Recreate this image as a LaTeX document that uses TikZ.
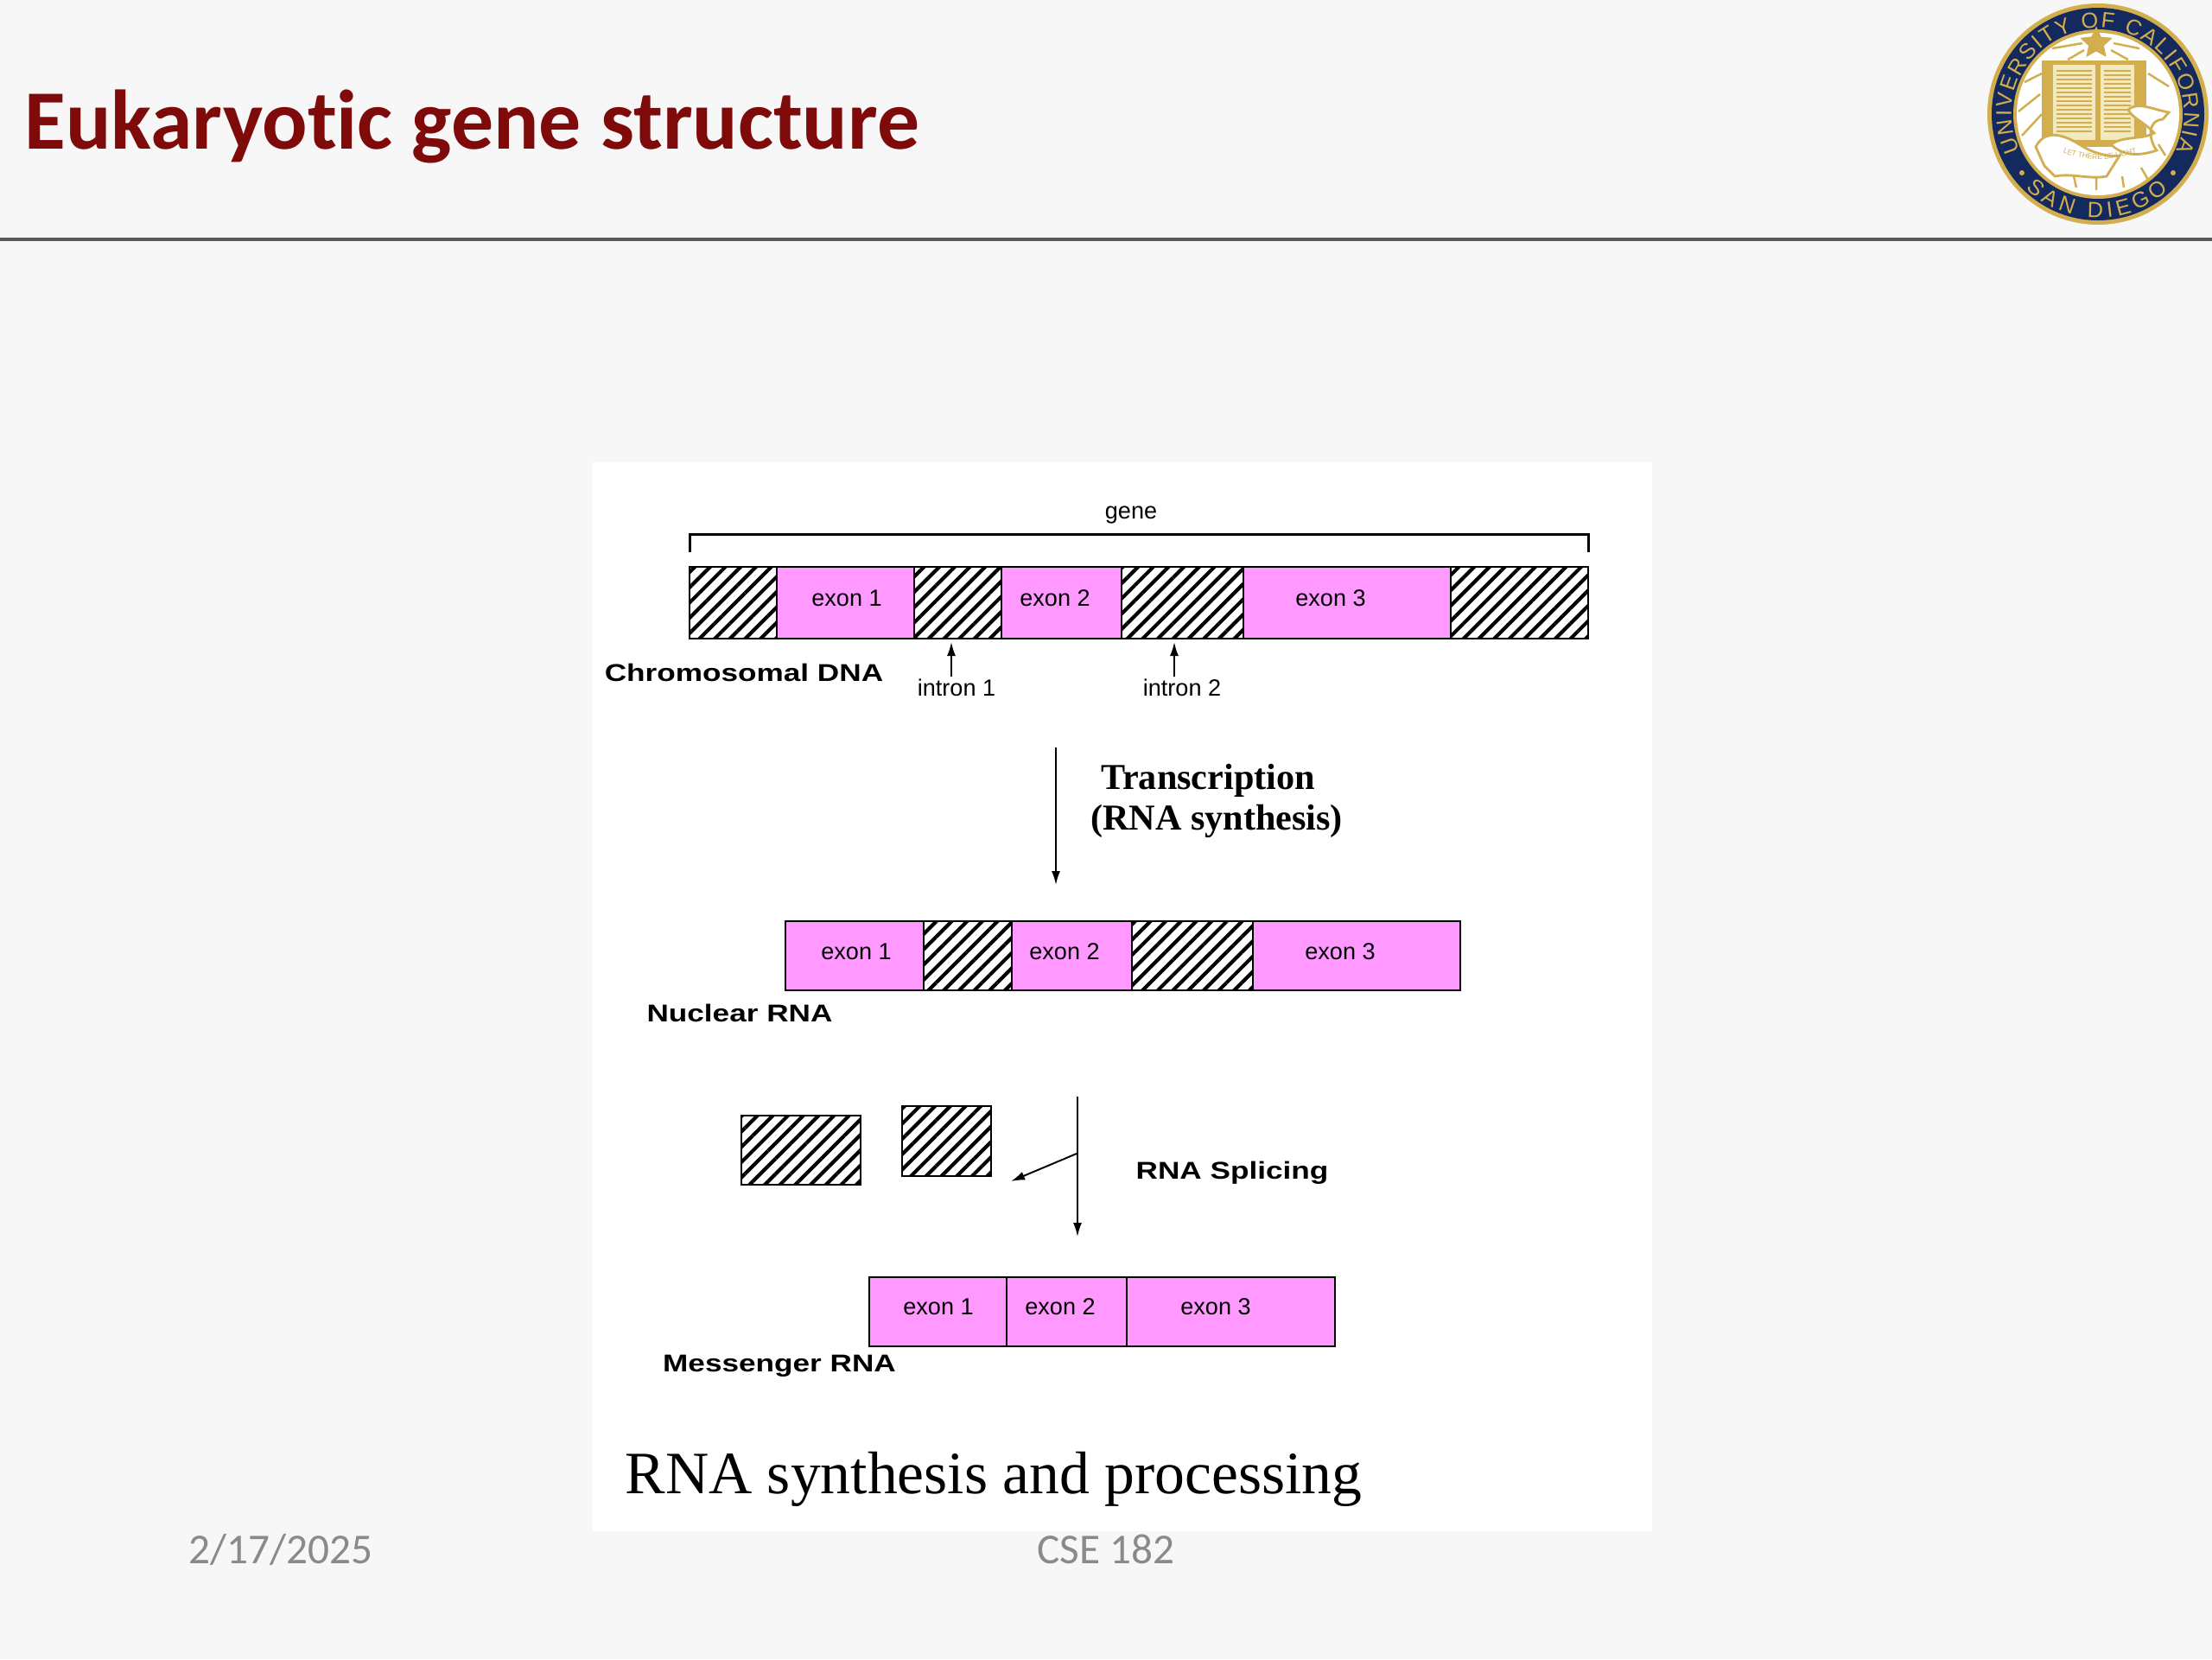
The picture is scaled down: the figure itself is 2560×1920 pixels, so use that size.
\documentclass[tikz,border=0pt]{standalone}
\usepackage{fontspec}
\setmainfont{Liberation Sans}
\newfontfamily\slidefont[Ligatures=CommonOff]{Carlito}
\newfontfamily\figserif{Liberation Serif}
\usetikzlibrary{arrows.meta,patterns.meta,decorations.text,shapes.geometric}
\definecolor{slidebg}{HTML}{F7F7F7}
\definecolor{titlered}{HTML}{7F0A0A}
\definecolor{exonpink}{HTML}{FF99FF}
\definecolor{sealnavy}{HTML}{14295E}
\definecolor{sealgold}{HTML}{D2AE4E}
\definecolor{sealpage}{HTML}{F3E9C0}
\newcommand{\wideletters}[1]{\scalebox{1.25}[1]{#1}}
\begin{document}
\begin{tikzpicture}[x=0.01cm,y=-0.01cm,line cap=butt,
	exonbox/.style={draw=black,line width=0.75pt,fill=exonpink},
	hatchbox/.style={draw=black,line width=0.75pt,preaction={fill=white},pattern={Lines[angle=45,distance=0.125cm,line width=0.042cm]}},
	exonlabel/.style={font=\fontsize{7.7}{9}\selectfont,inner sep=0},
	boldlabel/.style={font=\fontsize{8}{9}\selectfont\bfseries,inner sep=0},
	smalllabel/.style={font=\fontsize{7.7}{9}\selectfont,inner sep=0},
	seriflabel/.style={font=\fontsize{12}{14}\selectfont\figserif\bfseries,inner sep=0},
	footlabel/.style={font=\fontsize{14}{16}\selectfont\slidefont,text=black!46,inner sep=0},
	thinarrow/.style={-{Latex[length=0.16cm,width=0.1cm]},line width=0.55pt},
	sealline/.style={draw=sealgold,line width=0.5pt}]
	\useasboundingbox (0,0) rectangle (2560,1920);
	\fill[slidebg] (0,0) rectangle (2560,1920);
	% header
	\node[font=\fontsize{27.8}{32}\selectfont\slidefont\bfseries,text=titlered,anchor=west,inner sep=0] (slidetitle) at (28,146) {Eukaryotic gene structure};
	\draw[black!65,line width=1.1pt] (0,277) -- (2560,277);
	% seal
	\begin{scope}[shift={(2428,132)},x=0.01cm,y=0.01cm]
		\fill[sealgold] (0,0) circle (128);
		\fill[sealnavy] (0,0) circle (123);
		\fill[sealgold] (0,0) circle (98);
		\fill[white] (0,0) circle (94);
		\path[decorate,decoration={text along path,text align={fit to path},text={|\fontsize{7.2}{9}\selectfont\color{sealgold}|UNIVERSITY OF CALIFORNIA}}] (205:100) arc (205:-25:100);
		\path[decorate,decoration={text along path,text align={fit to path},text={|\fontsize{7.2}{9}\selectfont\color{sealgold}|SAN DIEGO}}] (226:120) arc (226:313:120);
		\fill[sealgold] (-88,-68) circle (3) (87,-68) circle (3);
		\draw[sealline,line width=0.7pt] (-85,37) -- (-65,47) (-92,3) -- (-67,23) (-88,-25) -- (-65,0) (58,47) -- (82,32) (-53,76) -- (-18,82) (-35,63) -- (-16,74) (15,74) -- (35,63) (18,82) -- (48,76) (-28,-72) -- (-25,-85) (-2,-72) -- (-2,-88) (28,-72) -- (30,-85) (50,-62) -- (58,-76) (70,-35) -- (78,-48);
		\fill[sealgold] (-65,-38) rectangle (56,62);
		\fill[sealpage] (-52,-30) rectangle (-3,57);
		\fill[sealpage] (3,-30) rectangle (42,57);
		\foreach \lineh in {50,45,40,35,30,25,20,15,10,5,0,-5,-10,-15,-20} {
			\draw[sealgold,line width=0.35pt] (-48,\lineh) -- (-7,\lineh);
			\draw[sealgold,line width=0.35pt] (7,\lineh) -- (38,\lineh);
		}
		\node[star,star points=5,star point ratio=2.1,minimum size=0.36cm,inner sep=0,fill=sealgold,draw=sealgold] (sealstar) at (-2,82) {};
		\draw[sealline,fill=white,line width=0.8pt] (-72,-38) .. controls (-62,-18) and (-42,-22) .. (-20,-36) .. controls (-5,-46) and (15,-50) .. (25,-48) -- (10,-72) .. controls (-10,-76) and (-30,-68) .. (-50,-72) -- (-62,-60) -- cycle;
		\draw[sealline,fill=white,line width=0.8pt] (15,-35) .. controls (30,-25) and (50,-30) .. (65,-22) .. controls (55,-10) and (40,-5) .. (35,5) .. controls (45,15) and (65,5) .. (82,2) -- (75,-6) .. controls (55,-8) and (60,-32) .. (68,-42) .. controls (50,-48) and (30,-50) .. (15,-35) -- cycle;
		\path[decorate,decoration={text along path,text align=center,text={|\fontsize{2.4}{3}\selectfont\color{sealgold}|LET THERE BE LIGHT}}] (-55,-38) .. controls (-30,-50) and (0,-62) .. (60,-40);
	\end{scope}
	% reference panel
	\fill[white] (686,535) rectangle (1912,1772);
	% chromosomal dna
	\node[smalllabel] (genelabel) at (1309,596) {gene};
	\draw[line width=0.85pt] (798,639) |- (1838,618) -- (1838,639);
	\draw[hatchbox] (798,656) rectangle (899,739);
	\draw[exonbox] (899,656) rectangle (1058,739);
	\draw[hatchbox] (1058,656) rectangle (1159,739);
	\draw[exonbox] (1159,656) rectangle (1298,739);
	\draw[hatchbox] (1298,656) rectangle (1439,739);
	\draw[exonbox] (1439,656) rectangle (1679,739);
	\draw[hatchbox] (1679,656) rectangle (1838,739);
	\node[exonlabel] (dnaexon1) at (980,692) {exon 1};
	\node[exonlabel] (dnaexon2) at (1221,692) {exon 2};
	\node[exonlabel] (dnaexon3) at (1540,692) {exon 3};
	\node[boldlabel] (dnalabel) at (861,778) {\wideletters{Chromosomal DNA}};
	\node[smalllabel] (intron1) at (1107,796) {intron 1};
	\node[smalllabel] (intron2) at (1368,796) {intron 2};
	\coordinate (intron1tip) at (1101,743);
	\coordinate (intron1end) at (1101,783);
	\coordinate (intron2tip) at (1359,743);
	\coordinate (intron2end) at (1359,783);
	\draw[thinarrow] (intron1end) -- (intron1tip);
	\draw[thinarrow] (intron2end) -- (intron2tip);
	% transcription
	\coordinate (transtop) at (1222,865);
	\coordinate (transtip) at (1222,1024);
	\draw[thinarrow] (transtop) -- (transtip);
	\node[seriflabel] (translabel) at (1398,903) {Transcription};
	\node[seriflabel] (synthlabel) at (1408,950) {(RNA synthesis)};
	% nuclear rna
	\draw[exonbox] (909,1066) rectangle (1069,1146);
	\draw[hatchbox] (1069,1066) rectangle (1171,1146);
	\draw[exonbox] (1171,1066) rectangle (1310,1146);
	\draw[hatchbox] (1310,1066) rectangle (1450,1146);
	\draw[exonbox] (1450,1066) rectangle (1690,1146);
	\node[exonlabel] (nucexon1) at (991,1101) {exon 1};
	\node[exonlabel] (nucexon2) at (1232,1101) {exon 2};
	\node[exonlabel] (nucexon3) at (1551,1101) {exon 3};
	\node[boldlabel] (nuclabel) at (856,1172) {\wideletters{Nuclear RNA}};
	% splicing
	\draw[hatchbox] (858,1291) rectangle (996,1371);
	\draw[hatchbox] (1044,1280) rectangle (1147,1361);
	\coordinate (splicetop) at (1247,1269);
	\coordinate (splicetip) at (1247,1431);
	\coordinate (splicemid) at (1246,1335);
	\coordinate (splicecut) at (1170,1367);
	\draw[thinarrow] (splicetop) -- (splicetip);
	\draw[thinarrow] (splicemid) -- (splicecut);
	\node[boldlabel] (splicelabel) at (1426,1357) {\wideletters{RNA Splicing}};
	% messenger rna
	\draw[exonbox] (1006,1478) rectangle (1165,1558);
	\draw[exonbox] (1165,1478) rectangle (1304,1558);
	\draw[exonbox] (1304,1478) rectangle (1545,1558);
	\node[exonlabel] (msgexon1) at (1086,1512) {exon 1};
	\node[exonlabel] (msgexon2) at (1227,1512) {exon 2};
	\node[exonlabel] (msgexon3) at (1407,1512) {exon 3};
	\node[boldlabel] (msglabel) at (902,1581) {\wideletters{Messenger RNA}};
	\node[font=\fontsize{19.8}{24}\selectfont\figserif,inner sep=0] (caption) at (1150,1712) {RNA synthesis and processing};
	% footer
	\node[footlabel] (footdate) at (325,1793) {2/17/2025};
	\node[footlabel] (footcourse) at (1280,1793) {CSE 182};
\end{tikzpicture}
\end{document}
